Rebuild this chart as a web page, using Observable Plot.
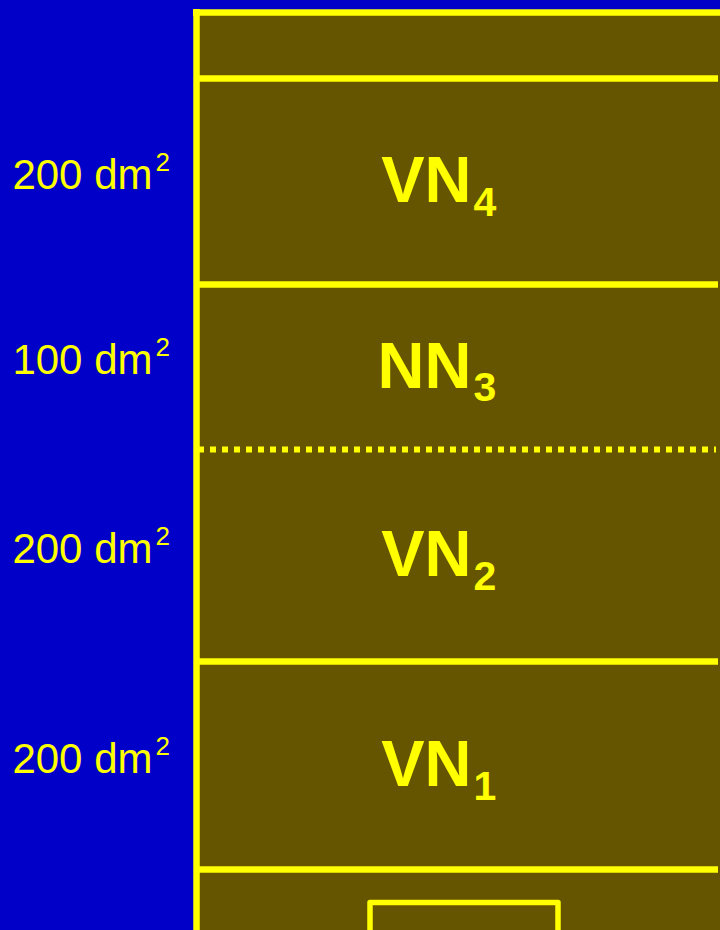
<!DOCTYPE html>
<html><head><meta charset="utf-8">
<script src="https://cdn.jsdelivr.net/npm/d3@7"></script>
<script src="https://cdn.jsdelivr.net/npm/@observablehq/plot@0.6"></script>
<style>html,body{margin:0;padding:0;background:#0000C8;overflow:hidden}</style>
</head><body><div id="chart"></div>
<script>
// Floors of the building (top to bottom)
const floorNames = ["VN", "NN", "VN", "VN"];
const floorIndex = ["4", "3", "2", "1"];
const floorAreas = [200, 100, 200, 200];
const areaUnit = "dm";
// Level boundaries in diagram units (top -> bottom)
const floorTops = [78, 284, 449, 661];
const floorBottoms = [284, 449, 661, 869];
const solidLevels = [78, 284, 661, 869];
const dottedLevels = [449];
// Building outline
const buildingLeft = 196, buildingRight = 720, buildingTop = 12, groundBottom = 930;
// Bracket (door / opening) at the bottom
const bracketX = [369.5, 369.5, 557.5, 557.5];
const bracketY = [930, 902, 902, 930];

const YEL = "#FFFF00", BLUE = "#0000C8", BROWN = "#665500";
const FONT = "'Liberation Sans', Arial, Helvetica, sans-serif";

const floors = floorNames.map((n, i) => ({
  name: n, sub: floorIndex[i], area: floorAreas[i],
  top: floorTops[i], bottom: floorBottoms[i], mid: (floorTops[i] + floorBottoms[i]) / 2
}));
const bracket = bracketX.map((x, i) => ({x, y: bracketY[i]}));

const chart = Plot.plot({
  width: 720, height: 930,
  margin: 0,
  x: {domain: [0, 720], range: [0, 720], axis: null},
  y: {domain: [0, 930], range: [0, 930], axis: null},
  style: {background: BLUE, fontFamily: FONT},
  marks: [
    Plot.rect([{x1: buildingLeft, x2: buildingRight, y1: buildingTop, y2: groundBottom}],
      {x1: "x1", x2: "x2", y1: "y1", y2: "y2", fill: BROWN}),
    Plot.ruleY(solidLevels, {x1: () => buildingLeft, x2: () => 718, stroke: YEL, strokeWidth: 6.5}),
    Plot.ruleY(dottedLevels, {x1: () => 198, x2: () => 716, stroke: YEL, strokeWidth: 6, strokeDasharray: "6,6"}),
    Plot.ruleY([buildingTop], {x1: () => buildingLeft - 3, x2: () => buildingRight, stroke: YEL, strokeWidth: 6.5}),
    Plot.ruleX([buildingLeft], {y1: () => buildingTop - 3, y2: () => groundBottom, stroke: YEL, strokeWidth: 6.5}),
    Plot.line(bracket, {x: "x", y: "y", stroke: YEL, strokeWidth: 5.5, strokeLinejoin: "round"}),
    // floor names
    Plot.text(floors, {x: () => 471, y: "mid", text: "name", textAnchor: "end", fontSize: 65, fontWeight: "bold", fill: YEL}),
    Plot.text(floors, {x: () => 473, y: "mid", text: "sub", textAnchor: "start", fontSize: 41, fontWeight: "bold", fill: YEL, dy: 21}),
    // areas
    Plot.text(floors, {x: () => 152, y: "mid", text: d => `${d.area} ${areaUnit}`, textAnchor: "end", fontSize: 42, fill: YEL, dy: -6}),
    Plot.text(floors, {x: () => 155, y: "mid", text: () => "2", textAnchor: "start", fontSize: 26, fill: YEL, dy: -19})
  ]
});
document.getElementById("chart").appendChild(chart);
</script>
</body></html>
